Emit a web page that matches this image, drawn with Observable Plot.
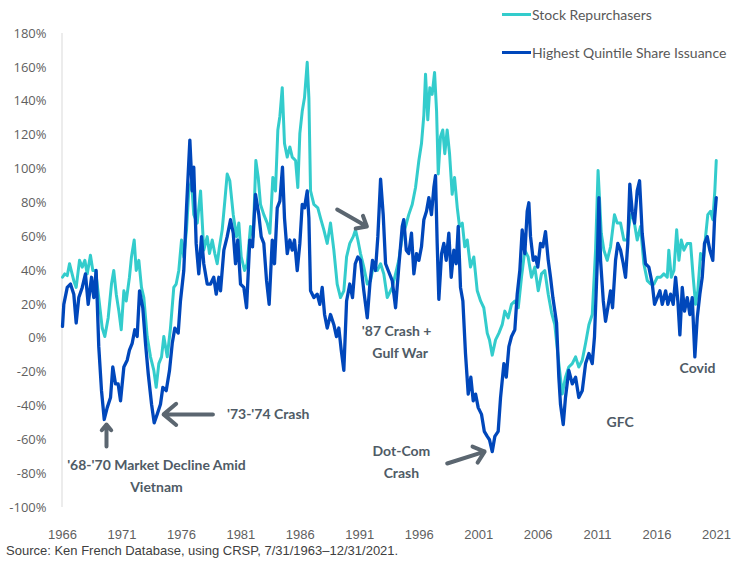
<!DOCTYPE html>
<html><head><meta charset="utf-8">
<script src="https://cdn.jsdelivr.net/npm/d3@7"></script>
<script src="https://cdn.jsdelivr.net/npm/@observablehq/plot@0.6"></script>
<style>
body{margin:0;background:#fff;}
#wrap{position:relative;width:738px;height:565px;overflow:hidden;}
.leg{position:absolute;left:502px;height:20px;font:14px Lato, "Open Sans", sans-serif;color:#595959;display:flex;align-items:center;white-space:nowrap;}
.leg .sw{display:inline-block;width:29px;height:3px;margin-right:1px;}
#src{position:absolute;left:6px;top:543px;font:13px "Liberation Sans",Arial,sans-serif;color:#404040;white-space:nowrap;}
</style></head><body>
<div id="wrap"><div id="chart"></div>
<div class="leg" style="top:4px"><span class="sw" style="background:#33CCCC"></span>Stock Repurchasers</div>
<div class="leg" style="top:42px"><span class="sw" style="background:#0047BB"></span>Highest Quintile Share Issuance</div>
<div id="src">Source: Ken French Database, using CRSP, 7/31/1963–12/31/2021.</div>
</div>
<script>
const seriesNames = ["Stock Repurchasers", "Highest Quintile Share Issuance"];
const seriesColors = ["#33CCCC", "#0047BB"];
const xTicks = [1966, 1971, 1976, 1981, 1986, 1991, 1996, 2001, 2006, 2011, 2016, 2021];
const yTicks = [-100, -80, -60, -40, -20, 0, 20, 40, 60, 80, 100, 120, 140, 160, 180];

// [year, cumulative relative return %]
const repurchasers = [[1966.00,36],[1966.19,38],[1966.40,37],[1966.59,44],[1966.95,34],[1967.15,30],[1967.43,46],[1967.66,42],[1967.88,46],[1968.08,38],[1968.35,49],[1968.55,40],[1968.78,40],[1969.05,24],[1969.34,6],[1969.56,1],[1969.84,12],[1970.12,32],[1970.31,40],[1970.52,26],[1970.74,16],[1970.94,5],[1971.16,28],[1971.36,22],[1971.63,36],[1971.80,48],[1972.03,58],[1972.20,40],[1972.42,46],[1972.64,30],[1972.84,24],[1973.12,1],[1973.40,-11],[1973.68,-19],[1973.88,-29],[1974.10,-15],[1974.33,-11],[1974.52,1],[1974.81,-11],[1975.08,6],[1975.36,30],[1975.56,32],[1975.78,40],[1976.01,58],[1976.20,48],[1976.43,64],[1976.62,87],[1976.85,93],[1977.04,73],[1977.33,68],[1977.61,87],[1977.88,52],[1978.17,60],[1978.36,50],[1978.59,58],[1978.81,50],[1979.01,44],[1979.20,54],[1979.43,64],[1979.65,81],[1979.85,97],[1980.07,93],[1980.36,73],[1980.63,60],[1980.83,68],[1981.03,48],[1981.31,40],[1981.53,44],[1981.81,66],[1982.04,60],[1982.26,105],[1982.46,95],[1982.65,79],[1982.93,73],[1983.22,68],[1983.44,62],[1983.69,95],[1983.91,87],[1984.11,123],[1984.28,131],[1984.48,148],[1984.67,115],[1984.90,107],[1985.12,113],[1985.32,107],[1985.60,105],[1985.79,89],[1985.96,121],[1986.16,134],[1986.35,142],[1986.58,163],[1986.72,142],[1986.86,87],[1987.14,79],[1987.47,77],[1987.70,71],[1987.98,64],[1988.26,56],[1988.54,68],[1988.82,52],[1989.10,32],[1989.38,24],[1989.66,28],[1989.89,48],[1990.16,56],[1990.45,60],[1990.64,64],[1990.84,58],[1991.06,50],[1991.34,42],[1991.63,32],[1991.90,34],[1992.18,44],[1992.47,40],[1992.75,44],[1993.02,38],[1993.31,24],[1993.73,30],[1994.01,38],[1994.28,46],[1994.57,60],[1994.85,66],[1995.12,73],[1995.41,79],[1995.69,89],[1995.97,105],[1996.19,115],[1996.39,132],[1996.53,156],[1996.72,129],[1996.89,148],[1997.09,144],[1997.29,157],[1997.46,134],[1997.60,97],[1997.79,119],[1997.98,123],[1998.15,109],[1998.35,123],[1998.55,109],[1998.77,85],[1998.97,95],[1999.20,77],[1999.39,66],[1999.62,68],[1999.83,54],[2000.04,58],[2000.31,42],[2000.59,48],[2000.88,28],[2001.16,22],[2001.43,18],[2001.72,3],[2001.91,-1],[2002.14,-10],[2002.42,-1],[2002.70,3],[2002.98,8],[2003.20,16],[2003.48,12],[2003.76,20],[2004.04,22],[2004.33,18],[2004.60,36],[2004.88,52],[2005.16,48],[2005.44,36],[2005.72,42],[2006.01,28],[2006.28,38],[2006.56,40],[2006.85,26],[2007.13,15],[2007.40,8],[2007.74,-15],[2008.03,-33],[2008.30,-23],[2008.58,-17],[2008.87,-15],[2009.15,-11],[2009.42,-17],[2009.71,-13],[2009.99,-3],[2010.27,8],[2010.55,14],[2010.83,52],[2011.04,99],[2011.31,62],[2011.53,52],[2011.81,46],[2012.09,54],[2012.42,73],[2012.65,68],[2012.93,68],[2013.21,58],[2013.49,58],[2013.77,73],[2014.05,70],[2014.33,58],[2014.61,66],[2014.89,44],[2015.18,34],[2015.46,32],[2015.74,32],[2016.02,36],[2016.30,36],[2016.57,38],[2016.86,36],[2016.99,52],[2017.20,36],[2017.42,40],[2017.65,64],[2017.84,46],[2018.04,58],[2018.26,52],[2018.54,56],[2018.82,56],[2019.04,36],[2019.24,20],[2019.43,28],[2019.66,50],[2019.89,46],[2020.08,60],[2020.27,73],[2020.50,75],[2020.69,70],[2020.86,87],[2020.98,105]];

const issuers = [[1966.00,7],[1966.11,20],[1966.40,30],[1966.67,32],[1966.95,26],[1967.15,9],[1967.37,24],[1967.66,30],[1967.93,38],[1968.16,20],[1968.44,36],[1968.63,24],[1968.83,40],[1969.05,-5],[1969.28,-31],[1969.51,-48],[1969.76,-41],[1970.04,-35],[1970.23,-17],[1970.46,-27],[1970.68,-27],[1970.88,-37],[1971.16,-17],[1971.44,-13],[1971.63,-7],[1971.86,-3],[1972.08,5],[1972.28,1],[1972.48,28],[1972.75,18],[1972.98,-3],[1973.21,-21],[1973.49,-39],[1973.71,-50],[1973.96,-45],[1974.24,-39],[1974.44,-29],[1974.72,-31],[1975.00,-19],[1975.23,-3],[1975.45,6],[1975.73,3],[1975.92,22],[1976.20,40],[1976.43,77],[1976.71,117],[1976.91,87],[1977.04,101],[1977.24,56],[1977.46,38],[1977.69,60],[1977.88,44],[1978.17,32],[1978.45,32],[1978.72,36],[1978.93,26],[1979.15,36],[1979.29,28],[1979.57,52],[1979.85,60],[1980.13,70],[1980.36,62],[1980.55,44],[1980.74,58],[1980.97,32],[1981.25,30],[1981.48,18],[1981.75,58],[1981.98,54],[1982.23,85],[1982.51,73],[1982.71,60],[1982.93,56],[1983.16,34],[1983.38,20],[1983.64,58],[1983.83,44],[1984.06,77],[1984.28,81],[1984.50,101],[1984.67,71],[1984.90,50],[1985.12,58],[1985.32,52],[1985.51,58],[1985.74,40],[1985.96,56],[1986.16,79],[1986.35,77],[1986.58,87],[1986.72,71],[1986.86,28],[1987.14,24],[1987.42,26],[1987.64,20],[1987.84,30],[1988.04,14],[1988.26,6],[1988.54,14],[1988.82,8],[1989.04,1],[1989.24,6],[1989.44,-7],[1989.66,-19],[1989.89,22],[1990.16,32],[1990.39,24],[1990.62,44],[1990.84,48],[1991.06,46],[1991.34,28],[1991.63,12],[1991.85,32],[1992.07,46],[1992.32,40],[1992.52,60],[1992.75,94],[1992.97,73],[1993.17,44],[1993.39,40],[1993.73,34],[1994.01,18],[1994.28,42],[1994.57,66],[1994.70,70],[1994.91,52],[1995.12,50],[1995.35,62],[1995.55,38],[1995.77,50],[1995.97,46],[1996.19,54],[1996.39,70],[1996.61,75],[1996.81,83],[1997.03,73],[1997.23,89],[1997.37,96],[1997.51,56],[1997.65,23],[1997.88,50],[1998.07,56],[1998.27,46],[1998.49,62],[1998.69,36],[1998.91,52],[1999.11,44],[1999.28,66],[1999.47,30],[1999.67,22],[1999.89,-9],[2000.12,-33],[2000.34,-23],[2000.54,-37],[2000.74,-33],[2000.96,-41],[2001.24,-45],[2001.47,-55],[2001.72,-58],[2001.91,-60],[2002.14,-67],[2002.36,-58],[2002.64,-55],[2002.84,-35],[2003.12,-15],[2003.32,-23],[2003.54,-5],[2003.76,1],[2004.04,5],[2004.24,26],[2004.46,40],[2004.66,64],[2004.88,50],[2005.08,75],[2005.22,80],[2005.36,60],[2005.59,46],[2005.78,48],[2005.97,42],[2006.20,56],[2006.40,54],[2006.62,63],[2006.85,46],[2007.04,36],[2007.24,24],[2007.55,9],[2007.74,-23],[2007.88,-39],[2008.11,-51],[2008.30,-35],[2008.58,-19],[2008.87,-27],[2009.15,-23],[2009.42,-35],[2009.71,-31],[2009.99,-15],[2010.27,-9],[2010.55,-15],[2010.74,1],[2010.97,44],[2011.11,83],[2011.25,46],[2011.48,22],[2011.67,10],[2011.86,18],[2012.09,28],[2012.26,18],[2012.51,46],[2012.70,56],[2012.93,52],[2013.16,44],[2013.35,36],[2013.54,56],[2013.71,91],[2013.91,75],[2014.11,68],[2014.33,87],[2014.53,93],[2014.75,62],[2015.03,44],[2015.31,42],[2015.60,32],[2015.79,20],[2016.02,24],[2016.24,28],[2016.44,20],[2016.72,28],[2016.91,20],[2017.14,26],[2017.36,20],[2017.56,36],[2017.75,22],[2017.92,2],[2018.12,30],[2018.31,16],[2018.54,24],[2018.76,14],[2018.96,24],[2019.18,-11],[2019.38,12],[2019.60,26],[2019.80,36],[2019.99,56],[2020.22,60],[2020.44,52],[2020.69,46],[2020.84,71],[2020.98,83]];

const annotationText = ["'68-'70 Market Decline Amid", "Vietnam", "'73-'74 Crash", "'87 Crash +", "Gulf War", "Dot-Com", "Crash", "GFC", "Covid"];
const annotationX = [1973.9, 1973.9, 1983.3, 1994.1, 1994.4, 1994.5, 1994.5, 2012.9, 2019.4];
const annotationY = [-75, -88, -45, 4, -9, -67, -80, -50, -18];
// arrows: [x1, y1, x2, y2] in data units
const arrowsData = [[1969.7, -64, 1969.7, -51], [1978.65, -45, 1974.5, -45], [1989.1, 76, 1991.6, 66], [1998.35, -74, 2001.5, -67]];

const rep = repurchasers.map(([year, value]) => ({year, value, series: seriesNames[0]}));
const iss = issuers.map(([year, value]) => ({year, value, series: seriesNames[1]}));
const notes = annotationText.map((t, i) => ({t, x: annotationX[i], y: annotationY[i]}));
const arrows = arrowsData.map(([x1, y1, x2, y2]) => ({x1, y1, x2, y2}));

const chart = Plot.plot({
  width: 738, height: 545,
  marginTop: 33, marginBottom: 38, marginLeft: 62, marginRight: 22,
  style: {fontFamily: "'Open Sans', sans-serif", fontSize: "13px", color: "#5f5f5f", background: "white"},
  x: {domain: [1966, 2021], ticks: xTicks, tickFormat: d => String(d), tickSize: 0, tickPadding: 22, label: null},
  y: {domain: [-100, 180], ticks: yTicks, tickFormat: d => d + "%", tickSize: 0, tickPadding: 16, label: null},
  marks: [
    Plot.ruleX([1966], {stroke: "#d9d9d9", strokeWidth: 1, dx: -0.5}),
    Plot.line(rep, {x: "year", y: "value", stroke: seriesColors[0], strokeWidth: 3}),
    Plot.line(iss, {x: "year", y: "value", stroke: seriesColors[1], strokeWidth: 3.3}),
    Plot.arrow(arrows, {x1: "x1", y1: "y1", x2: "x2", y2: "y2", stroke: "#5b6670", strokeWidth: 4, headLength: 9, headAngle: 80}),
    Plot.text(notes, {x: "x", y: "y", text: "t", fill: "#4f5b66", fontWeight: 700, fontSize: 14, fontFamily: "Lato, sans-serif"})
  ]
});
document.getElementById("chart").appendChild(chart);
// x tick labels use a narrow font
d3.select(chart).selectAll('g[aria-label="x-axis"] text, g[aria-label="x-axis tick label"] text')
  .style("font-family", "'Liberation Sans Narrow', 'Liberation Sans', sans-serif").style("font-size", "13px");
</script>
</body></html>
